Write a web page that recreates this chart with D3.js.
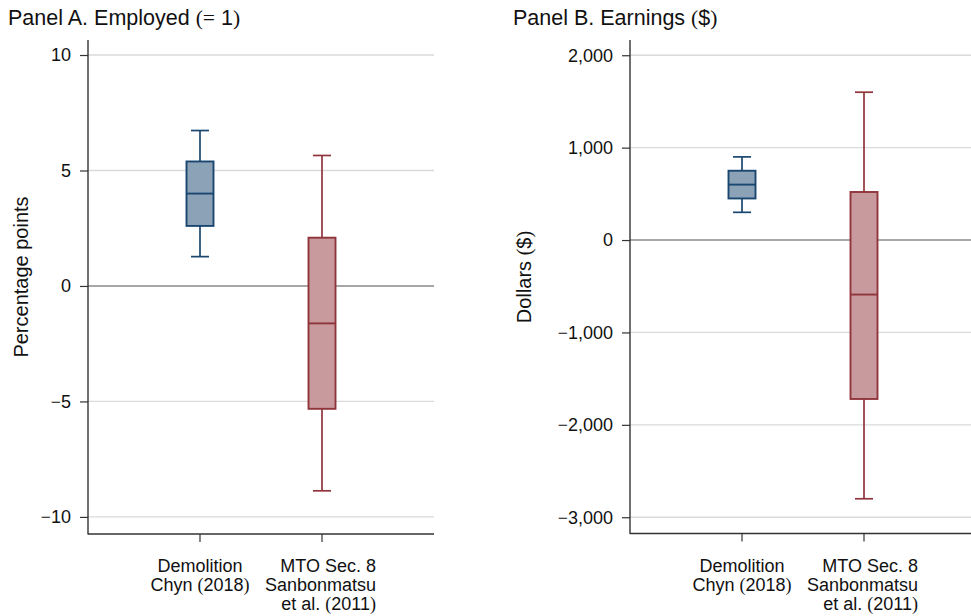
<!DOCTYPE html>
<html>
<head>
<meta charset="utf-8">
<script src="https://cdn.jsdelivr.net/npm/d3@7"></script>
<style>
  html, body { margin: 0; padding: 0; background: #fff; }
  svg { display: block; }
  text { font-family: "Liberation Sans", Helvetica, Arial, sans-serif; fill: #111; }
</style>
</head>
<body>
<svg id="chart" width="971" height="616"></svg>
<script>
// Study labels on the x axis (one entry per line)
const categoryLines = [
  ["Demolition", "Chyn (2018)"],
  ["MTO Sec. 8", "Sanbonmatsu", "et al. (2011)"]
];

// Box summaries: [lower whisker, lower quartile, median, upper quartile, upper whisker]
const employedStats = [
  [1.27, 2.6, 4.0, 5.39, 6.73],
  [-8.87, -5.32, -1.62, 2.09, 5.65]
];
const earningsStats = [
  [300, 450, 600, 750, 900],
  [-2800, -1720, -590, 520, 1600]
];

// Tick values
const employedTicks = [-10, -5, 0, 5, 10];
const earningsTicks = [-3000, -2000, -1000, 0, 1000, 2000];

const seriesStroke = ["#1a476f", "#90353b"];
const seriesFill = ["#8ca3b7", "#c8999d"];

const svg = d3.select("#chart");
const serif = "'Liberation Serif', 'Times New Roman', serif";

// Write a string with parentheses, "=" and minus signs set in a serif face, the rest in sans
function mixedText(sel, str) {
  const parts = str.match(/[()=\u2212]|[^()=\u2212]+/g) || [];
  parts.forEach(p => {
    const t = sel.append("tspan").text(p);
    if (/[()=\u2212]/.test(p)) t.style("font-family", serif);
  });
}

const minus = v => (v < 0 ? "\u2212" : "");

function drawPanel(opt) {
  const g = svg.append("g");
  const y = d3.scaleLinear().domain(opt.yDomain).range([opt.bottom, opt.top]);
  const x = d3.scalePoint().domain(d3.range(opt.stats.length))
    .range([opt.left, opt.right]).padding(0.918);

  // gridlines
  g.selectAll("line.grid").data(opt.ticks.filter(t => t !== 0)).join("line")
    .attr("x1", opt.left).attr("x2", opt.right)
    .attr("y1", d => y(d)).attr("y2", d => y(d))
    .attr("stroke", "#dadada").attr("stroke-width", 1.3);

  // reference line at zero
  g.append("line")
    .attr("x1", opt.left).attr("x2", opt.right)
    .attr("y1", y(0)).attr("y2", y(0))
    .attr("stroke", "#8a8a8a").attr("stroke-width", 1.6);

  // y axis
  const yAxis = d3.axisLeft(y).tickValues(opt.ticks).tickSize(8).tickPadding(9)
    .tickFormat(() => "");
  const ya = g.append("g").attr("transform", `translate(${opt.left},0)`).call(yAxis);
  ya.select(".domain").remove();
  ya.selectAll(".tick line").attr("stroke", "#333").attr("stroke-width", 1.2);
  ya.selectAll(".tick text").each(function(d) {
    const t = d3.select(this).style("font-size", "18px")
      .style("font-family", "'Liberation Sans', Helvetica, Arial, sans-serif").attr("fill", "#111");
    mixedText(t, minus(d) + opt.fmt(Math.abs(d)));
  });
  g.append("line").attr("x1", opt.left).attr("x2", opt.left)
    .attr("y1", opt.top).attr("y2", opt.bottom + 0.6)
    .attr("stroke", "#333").attr("stroke-width", 1.4);

  // x axis
  g.append("line").attr("x1", opt.left).attr("x2", opt.right)
    .attr("y1", opt.bottom).attr("y2", opt.bottom)
    .attr("stroke", "#333").attr("stroke-width", 1.4);
  g.selectAll("line.xtick").data(opt.stats).join("line")
    .attr("x1", (d, i) => x(i)).attr("x2", (d, i) => x(i))
    .attr("y1", opt.bottom).attr("y2", opt.bottom + 8)
    .attr("stroke", "#333").attr("stroke-width", 1.2);

  // category labels: first centred on its tick, second right-aligned block
  const align = [{anchor: "middle", dx: 0}, {anchor: "end", dx: 54}];
  categoryLines.forEach((lines, i) => {
    lines.forEach((ln, j) => {
      const t = g.append("text")
        .attr("x", x(i) + align[i].dx)
        .attr("y", opt.bottom + 38 + j * 19)
        .attr("text-anchor", align[i].anchor)
        .style("font-size", "18px");
      mixedText(t, ln);
    });
  });

  // boxes and whiskers
  const boxW = 27, capW = 18;
  opt.stats.forEach((s, i) => {
    const cx = x(i);
    const [lo, q1, med, q3, hi] = s;
    const col = seriesStroke[i];
    const b = g.append("g");
    b.append("line").attr("x1", cx).attr("x2", cx).attr("y1", y(hi)).attr("y2", y(q3))
      .attr("stroke", col).attr("stroke-width", 1.7);
    b.append("line").attr("x1", cx).attr("x2", cx).attr("y1", y(q1)).attr("y2", y(lo))
      .attr("stroke", col).attr("stroke-width", 1.7);
    [hi, lo].forEach(v => b.append("line")
      .attr("x1", cx - capW / 2).attr("x2", cx + capW / 2)
      .attr("y1", y(v)).attr("y2", y(v))
      .attr("stroke", col).attr("stroke-width", 1.7));
    b.append("rect").attr("x", cx - boxW / 2).attr("width", boxW)
      .attr("y", y(q3)).attr("height", y(q1) - y(q3))
      .attr("fill", seriesFill[i]).attr("stroke", col).attr("stroke-width", 1.9);
    b.append("line").attr("x1", cx - boxW / 2).attr("x2", cx + boxW / 2)
      .attr("y1", y(med)).attr("y2", y(med))
      .attr("stroke", col).attr("stroke-width", 1.9);
  });

  // panel title
  const title = g.append("text").attr("x", opt.titleX).attr("y", 25).style("font-size", "21.5px");
  mixedText(title, opt.title);

  // y axis title
  const yt = g.append("text")
    .attr("transform", `translate(${opt.yTitleX},${opt.yTitleY}) rotate(-90)`)
    .attr("text-anchor", "middle").style("font-size", "20px");
  mixedText(yt, opt.yTitle);
}

const fmtInt = d3.format(",");

drawPanel({
  stats: employedStats, ticks: employedTicks, yDomain: [-10.74, 10.65],
  left: 88, right: 434, top: 40, bottom: 534,
  fmt: d => fmtInt(d),
  title: "Panel A. Employed (= 1)", titleX: 8,
  yTitle: "Percentage points", yTitleX: 28, yTitleY: 277
});

drawPanel({
  stats: earningsStats, ticks: earningsTicks, yDomain: [-3176, 2165],
  left: 630, right: 976, top: 40, bottom: 533.5,
  fmt: d => fmtInt(d),
  title: "Panel B. Earnings ($)", titleX: 513,
  yTitle: "Dollars ($)", yTitleX: 531, yTitleY: 277
});
</script>
</body>
</html>
